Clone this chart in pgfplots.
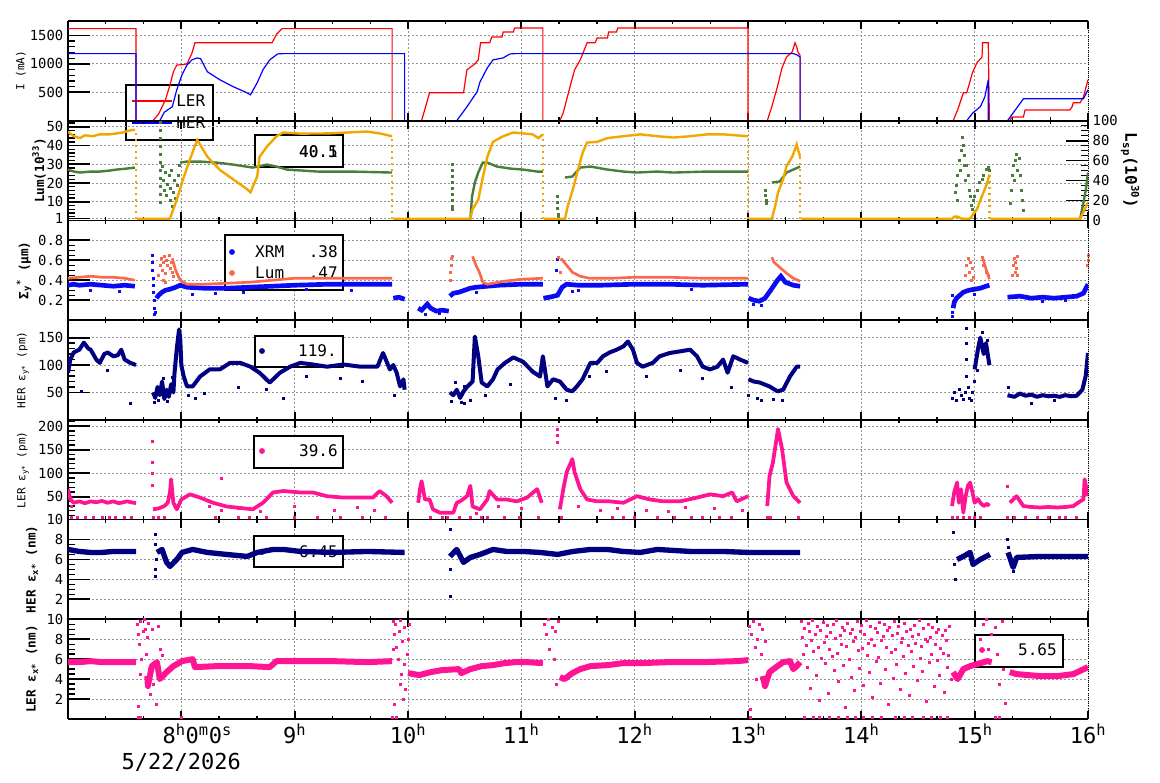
\documentclass[border=0pt]{standalone}
\usepackage{fontspec}
\setmainfont{DejaVu Sans Mono}
\usepackage{pgfplots}
\pgfplotsset{compat=1.18}

\definecolor{cRed}{RGB}{255,0,0}
\definecolor{cBlue}{RGB}{0,0,255}
\definecolor{cOrange}{RGB}{240,168,0}
\definecolor{cGreen}{RGB}{74,124,58}
\definecolor{cSalmon}{RGB}{250,105,75}
\definecolor{cXRM}{RGB}{10,10,245}
\definecolor{cNavy}{RGB}{0,0,128}
\definecolor{cPink}{RGB}{255,20,147}
\definecolor{cGrid}{RGB}{150,150,150}

\newcommand\tickfont{\fontsize{10.4}{12}\selectfont}
\newcommand\xtfont{\fontsize{16.5}{19}\selectfont}
\newcommand\labfont{\fontsize{8.3}{10}\selectfont}
\newcommand\blabfont{\fontsize{9.5}{11}\selectfont\bfseries}
\newcommand\legfont{\fontsize{12}{14}\selectfont}

\pgfplotsset{
  panel/.style={
    scale only axis, width=765pt, height=74.78pt,
    anchor=north west,
    xmin=7, xmax=16,
    xtick={7,...,16}, minor x tick num=2, xticklabels={},
    axis x line*=box, axis y line*=left,
    axis line style={-, line width=1.2pt, black},
    tick align=inside,
    major tick length=16.5pt, minor tick length=5pt,
    every major x tick/.append style={/pgfplots/major tick length=6pt},
    every minor x tick/.append style={/pgfplots/minor tick length=2.5pt},
    major tick style={line width=1.3pt, black},
    minor tick style={line width=1pt, black},
    grid=major,
    major grid style={cGrid, line width=0.6pt, dash pattern=on 1.5pt off 1.5pt},
    /pgf/number format/assume math mode=true,
    /pgf/number format/1000 sep={},
    yticklabel style={font=\tickfont, black},
    ylabel style={anchor=center},
    unbounded coords=jump,
    clip mode=individual,
  },
  sc/.style={only marks, mark=square*, mark size=0.75pt},
}

\begin{document}
\begin{tikzpicture}
\path[use as bounding box] (0,0) rectangle (870pt,586.5pt);

% ---------------- Panel 1: currents ----------------
\begin{axis}[panel, at={(51pt,570.75pt)},
  ymin=0, ymax=1754, ytick={500,1000,1500}, minor y tick num=4,
  ylabel={\labfont I (mA)}, ylabel style={at={(axis description cs:-0.0461,0.5)}}]
\draw[line width=0.9pt, fill=white] (axis description cs:0.0569,0.3582) rectangle (axis description cs:0.1422,-0.1935);
\draw[cRed, line width=0.9pt] (axis description cs:0.0627,0.1977) -- (axis description cs:0.1020,0.1977);
\node[anchor=west, font=\legfont, inner sep=0] at (axis description cs:0.1059,0.1977) {LER};
\draw[cBlue, line width=0.9pt] (axis description cs:0.0627,-0.023) -- (axis description cs:0.1020,-0.023);
\node[anchor=west, font=\legfont, inner sep=0] at (axis description cs:0.1059,-0.023) {HER};
\addplot[cRed, line width=0.9pt] coordinates {
(7.0,1620)(7.6,1620)(7.6,0)(7.75,0)(7.80,120)(7.86,368)(7.90,630)(7.93,860)(7.96,980)(8.01,985)(8.05,1000)(8.094,1190)(8.12,1370)(8.80,1370)(8.82,1440)(8.84,1520)(8.89,1620)(9.86,1620)(9.86,0)(10.12,0)(10.19,491)(10.49,491)(10.52,895)(10.59,1000)(10.62,1070)(10.64,1370)(10.72,1370)(10.74,1474)(10.83,1474)(10.84,1560)(10.93,1560)(10.94,1630)(11.19,1630)(11.19,0)(11.34,0)(11.37,140)(11.43,600)(11.47,895)(11.52,1070)(11.58,1370)(11.65,1370)(11.67,1456)(11.76,1456)(11.77,1560)(11.84,1560)(11.85,1630)(13.0,1630)(13.0,0)(13.17,0)(13.21,245)(13.26,600)(13.30,930)(13.34,1120)(13.39,1210)(13.415,1370)(13.43,1300)(13.44,1210)(13.46,1150)(13.46,0)(14.81,0)(14.85,190)(14.90,490)(14.93,490)(14.98,840)(15.02,1020)(15.065,1120)(15.07,1370)(15.12,1370)(15.13,0)(15.31,0)(15.33,65)(15.43,65)(15.445,190)(15.84,190)(15.86,245)(15.87,315)(15.93,315)(15.96,420)(16.0,720)};
\addplot[cBlue, line width=0.9pt] coordinates {
(7.0,1180)(7.6,1180)(7.6,0)(7.81,0)(7.85,150)(7.92,245)(7.96,545)(8.006,810)(8.05,980)(8.094,1070)(8.14,1105)(8.17,1090)(8.23,860)(8.34,720)(8.456,600)(8.58,490)(8.61,456)(8.67,670)(8.72,895)(8.78,1070)(8.85,1175)(8.90,1180)(9.97,1180)(9.97,0)(10.43,0)(10.52,245)(10.61,510)(10.635,680)(10.70,930)(10.75,1070)(10.84,1105)(10.90,1175)(10.95,1180)(13.40,1180)(13.43,1160)(13.46,1120)(13.46,0)(14.93,0)(14.985,140)(15.05,245)(15.09,420)(15.12,720)(15.12,0)(15.29,0)(15.43,385)(15.96,385)(16.0,545)};
\draw[black, densely dotted, line width=0.6pt] (rel axis cs:1,0) -- (rel axis cs:1,1);
\end{axis}

% ---------------- Panel 2: luminosity ----------------
\begin{axis}[panel, at={(51pt,495.97pt)},
  ymin=0, ymax=53.3, ytick={1,10,20,30,40,50}, minor ytick={2,4,...,52},
  ylabel={\blabfont Lum(10\textsuperscript{33})}, ylabel style={at={(axis description cs:-0.0284,0.5)}}]
\draw[line width=0.9pt, fill=white] (axis description cs:0.1833,0.8567) rectangle (axis description cs:0.2696,0.5358);
\node[anchor=east, font=\legfont, inner sep=0] at (axis description cs:0.2647,0.686) {40.5};
\node[anchor=east, font=\legfont, inner sep=0] at (axis description cs:0.2647,0.686) {40.1};
\end{axis}
\begin{axis}[scale only axis, width=765pt, height=74.78pt, anchor=north west, at={(51pt,495.97pt)},
  xmin=7, xmax=16, ymin=0, ymax=100, axis x line=none, axis y line*=right,
  y axis line style={-, densely dotted, line width=0.6pt, black},
  ytick={0,20,...,100}, minor y tick num=3, tick align=inside,
  major tick length=16.5pt, minor tick length=5pt,
  major tick style={line width=1.3pt, black}, minor tick style={line width=1pt, black},
  /pgf/number format/assume math mode=true,
  yticklabel style={font=\tickfont, black},
  ylabel={\fontsize{12}{14}\selectfont\bfseries L\textsubscript{sp}(10\textsuperscript{30})},
  ylabel style={at={(axis description cs:1.0412,0.5)}, anchor=center, rotate=180},
  unbounded coords=jump]
\addplot[cGreen, line width=1.8pt] coordinates {
(7.0,51)(7.05,49)(7.106,48)(7.2,49)(7.28,49)(7.37,50)(7.43,51)(7.52,52)(7.59,53)(7.6,nan)
(7.99,58)(8.05,59)(8.165,59)(8.31,58)(8.456,56)(8.63,53)(8.756,56)(8.84,54)(8.93,51)(9.2,49)(9.49,49)(9.86,48)(9.9,nan)
(10.55,1)(10.565,24)(10.59,38)(10.62,48)(10.66,58)(10.70,58)(10.785,54)(10.90,52)(11.015,51)(11.14,49)(11.19,49)(11.2,nan)
(11.385,43)(11.45,44)(11.52,53)(11.61,54)(11.76,51)(11.90,49)(12.02,48)(12.20,49)(12.34,48)(12.64,49)(13.0,49)(13.01,nan)
(13.21,38)(13.28,39)(13.34,48)(13.40,51)(13.46,54)(13.5,nan)
(15.85,1)(15.93,1)(15.96,18)(15.98,30)(16.0,48)};
\addplot[cGreen, sc] coordinates {
(7.81,98)(7.81,90)(7.81,82)(7.81,74)(7.81,66)(7.81,58)(7.81,50)(7.81,42)(7.81,34)(7.81,26)(7.81,18)
(7.83,54)(7.84,40)(7.85,30)(7.856,48)(7.87,25)(7.88,36)(7.89,45)(7.90,20)(7.90,32)(7.91,50)(7.92,14)(7.93,28)(7.94,40)(7.95,22)(7.96,35)(7.97,45)(7.98,55)
(10.39,56)(10.39,50)(10.39,44)(10.39,38)(10.39,32)(10.39,26)(10.39,20)(10.39,14)(10.39,11)
(11.32,24)(11.32,18)(11.32,12)(11.33,6)(11.33,4)
(13.15,30)(13.15,25)(13.16,20)(13.16,17)
(14.83,28)(14.84,35)(14.845,20)(14.85,45)(14.86,60)(14.87,50)(14.88,70)(14.89,83)(14.90,75)(14.905,55)(14.91,65)(14.92,40)(14.93,55)(14.94,45)(14.95,30)(14.96,24)(14.97,15)(14.98,11)(14.99,20)(15.0,24)(15.02,30)(15.04,38)(15.065,41)(15.08,45)(15.10,51)(15.12,53)(15.13,50)
(15.31,17)(15.32,30)(15.33,45)(15.34,55)(15.35,40)(15.36,60)(15.37,66)(15.38,50)(15.39,62)(15.40,45)(15.41,30)(15.42,20)(15.43,10)(15.6,1)(15.7,1)};
\end{axis}
\begin{axis}[scale only axis, width=765pt, height=74.78pt, anchor=north west, at={(51pt,495.97pt)},
  xmin=7, xmax=16, ymin=0, ymax=53.3, hide axis, unbounded coords=jump]
\addplot[cOrange, line width=1.8pt] coordinates {
(7.0,47.4)(7.05,45)(7.106,44)(7.15,45.5)(7.22,45)(7.28,46)(7.37,46)(7.43,46.5)(7.485,47)(7.54,48)(7.59,48.5)(7.6,nan)
(7.61,0.8)(7.87,0.8)(7.90,1)(7.93,6)(7.97,13)(8.015,22)(8.076,32.6)(8.14,43)(8.23,34)(8.34,27)(8.456,22)(8.58,16.7)(8.61,15)(8.67,23.6)(8.69,34)(8.756,39.5)(8.84,45)(8.90,47)(9.05,46.4)(9.3,46.5)(9.64,47.5)(9.75,46.5)(9.86,45)(9.865,nan)
(9.87,0.8)(10.55,0.8)(10.57,6)(10.62,11)(10.65,20)(10.70,34)(10.75,42)(10.84,45)(10.93,47)(11.015,46.5)(11.10,46)(11.15,44)(11.19,46)(11.195,nan)
(11.20,0.8)(11.385,0.8)(11.41,7.7)(11.455,16.7)(11.50,27)(11.54,36)(11.58,41.6)(11.67,42)(11.76,44)(11.90,45)(12.05,46)(12.20,45)(12.34,44.3)(12.49,45)(12.64,46)(12.78,46)(13.0,45)(13.005,nan)
(13.01,0.8)(13.21,0.8)(13.24,7.7)(13.265,15)(13.31,22)(13.34,29)(13.39,34)(13.43,40.6)(13.44,38)(13.46,34)(13.465,nan)
(13.47,0.8)(14.80,0.8)(14.82,2)(14.85,2)(14.88,1)(14.93,0.8)(14.96,1)(15.02,6)(15.065,13)(15.11,20)(15.13,24.5)(15.135,nan)
(15.14,0.8)(15.93,0.8)(15.96,4.5)(16.0,9.8)};
\addplot[cOrange, line width=1.8pt, dash pattern=on 1.5pt off 3pt] coordinates {
(7.6,0.8)(7.6,48.5)(7.6,nan)(9.86,0.8)(9.86,45)(9.86,nan)(11.19,0.8)(11.19,46)(11.19,nan)(13.0,0.8)(13.0,45)(13.0,nan)(13.46,0.8)(13.46,34)(13.46,nan)(15.13,0.8)(15.13,24.5)};
\end{axis}

% ---------------- Panel 3: sigma_y ----------------
\begin{axis}[panel, at={(51pt,421.18pt)},
  ymin=0, ymax=1, ytick={0.2,0.4,0.6,0.8}, minor y tick num=3,
  ylabel={\blabfont Σ\textsubscript{y}\textsuperscript{*} (µm)}, ylabel style={at={(axis description cs:-0.0431,0.5)}}]
\draw[line width=0.9pt, fill=white] (axis description cs:0.1539,0.8538) rectangle (axis description cs:0.2696,0.3023);
\fill[cXRM] (axis description cs:0.1608,0.6833) circle (2.2pt);
\node[anchor=west, font=\legfont, inner sep=0] at (axis description cs:0.1833,0.6833) {XRM};
\node[anchor=east, font=\legfont, inner sep=0] at (axis description cs:0.2647,0.6833) {.38};
\fill[cSalmon] (axis description cs:0.1608,0.4727) circle (2.2pt);
\node[anchor=west, font=\legfont, inner sep=0] at (axis description cs:0.1833,0.4727) {Lum};
\node[anchor=east, font=\legfont, inner sep=0] at (axis description cs:0.2647,0.4727) {.47};
\addplot[cXRM, line width=3.5pt] coordinates {
(7.0,0.35)(7.05,0.36)(7.1,0.35)(7.2,0.36)(7.3,0.35)(7.4,0.34)(7.5,0.35)(7.59,0.34)(7.6,nan)
(7.78,0.22)(7.80,0.25)(7.83,0.28)(7.86,0.30)(7.90,0.31)(7.95,0.33)(7.99,0.35)(8.05,0.33)(8.2,0.32)(8.4,0.32)(8.6,0.33)(8.8,0.34)(9.0,0.35)(9.3,0.36)(9.6,0.36)(9.86,0.36)(9.865,nan)
(9.87,0.22)(9.92,0.23)(9.97,0.21)(9.98,nan)
(10.09,0.12)(10.12,0.10)(10.17,0.16)(10.2,0.12)(10.25,0.09)(10.3,0.10)(10.36,0.09)(10.365,nan)
(10.37,0.24)(10.40,0.27)(10.45,0.28)(10.5,0.30)(10.55,0.32)(10.6,0.33)(10.7,0.34)(10.8,0.35)(11.0,0.36)(11.19,0.36)(11.191,nan)
(11.195,0.22)(11.25,0.23)(11.32,0.25)(11.36,0.33)(11.4,0.36)(11.5,0.35)(11.7,0.35)(12.0,0.36)(12.3,0.36)(12.6,0.35)(13.0,0.36)(13.001,nan)
(13.005,0.22)(13.05,0.20)(13.1,0.19)(13.15,0.22)(13.2,0.30)(13.26,0.40)(13.29,0.44)(13.33,0.38)(13.4,0.35)(13.46,0.34)(13.5,nan)
(14.81,0.12)(14.82,0.18)(14.84,0.22)(14.87,0.25)(14.9,0.28)(14.95,0.30)(15.0,0.31)(15.05,0.32)(15.1,0.34)(15.13,0.35)(15.14,nan)
(15.29,0.23)(15.4,0.24)(15.5,0.22)(15.6,0.23)(15.7,0.22)(15.8,0.23)(15.9,0.24)(15.96,0.27)(16.0,0.36)};
\addplot[cXRM, sc] coordinates {
(7.74,0.65)(7.74,0.58)(7.745,0.5)(7.75,0.42)(7.75,0.35)(7.755,0.28)(7.76,0.2)(7.76,0.12)(7.765,0.06)(7.77,0.08)
(7.2,0.3)(7.45,0.29)(8.1,0.26)(8.3,0.27)(8.55,0.28)(9.1,0.31)(9.5,0.3)(10.6,0.28)(11.5,0.3)(11.45,0.29)(12.5,0.31)(13.05,0.16)(13.12,0.15)(14.83,0.2)(15.0,0.26)(15.6,0.19)(15.8,0.2)(11.32,0.61)(11.31,0.5)(14.8,0.04)(14.8,0.08)(14.8,0.25)(10.15,0.06)(10.28,0.07)};
\addplot[cSalmon, line width=2pt] coordinates {
(7.0,0.42)(7.1,0.43)(7.2,0.44)(7.3,0.43)(7.4,0.43)(7.5,0.42)(7.59,0.40)(7.6,nan)
(7.92,0.62)(7.95,0.50)(7.99,0.40)(8.05,0.36)(8.2,0.36)(8.4,0.37)(8.6,0.38)(8.8,0.40)(8.9,0.41)(9.0,0.42)(9.3,0.42)(9.6,0.42)(9.86,0.42)(9.9,nan)
(10.57,0.64)(10.60,0.55)(10.63,0.48)(10.66,0.38)(10.70,0.36)(10.75,0.37)(10.85,0.39)(11.0,0.41)(11.19,0.42)(11.2,nan)
(11.35,0.62)(11.40,0.55)(11.45,0.48)(11.52,0.44)(11.6,0.42)(11.8,0.42)(12.0,0.43)(12.3,0.43)(12.6,0.42)(13.0,0.42)(13.01,nan)
(13.21,0.63)(13.23,0.58)(13.28,0.53)(13.34,0.47)(13.40,0.42)(13.46,0.39)(13.5,nan)
(15.07,0.63)(15.09,0.55)(15.11,0.48)(15.13,0.41)};
\addplot[cSalmon, sc] coordinates {
(7.80,0.45)(7.81,0.55)(7.82,0.62)(7.83,0.50)(7.84,0.58)(7.85,0.64)(7.86,0.47)(7.87,0.60)(7.88,0.55)(7.89,0.65)(7.90,0.52)(7.91,0.58)(7.92,0.48)(7.93,0.44)(7.84,0.40)(7.86,0.38)
(10.37,0.40)(10.375,0.48)(10.38,0.55)(10.385,0.62)(10.39,0.64)(11.33,0.63)(11.34,0.48)
(14.92,0.45)(14.93,0.55)(14.94,0.62)(14.95,0.48)(14.96,0.58)(14.97,0.40)(14.98,0.52)(14.99,0.43)(15.07,0.63)(15.08,0.55)(15.10,0.48)(15.12,0.45)
(15.33,0.45)(15.34,0.55)(15.35,0.62)(15.36,0.48)(15.36,0.58)(15.37,0.52)(15.38,0.64)(15.38,0.45)(15.99,0.55)(16.0,0.65)(16.0,0.60)};
\draw[black, densely dotted, line width=0.6pt] (rel axis cs:1,0) -- (rel axis cs:1,1);
\end{axis}

% ---------------- Panel 4: HER eps_y ----------------
\begin{axis}[panel, at={(51pt,346.40pt)},
  ymin=0, ymax=182, ytick={50,100,150}, minor y tick num=4,
  ylabel={\labfont HER ε\textsubscript{y*} (pm)}, ylabel style={at={(axis description cs:-0.0441,0.5)}}]
\draw[line width=0.9pt, fill=white] (axis description cs:0.1833,0.841) rectangle (axis description cs:0.2696,0.5301);
\fill[cNavy] (axis description cs:0.1902,0.6905) circle (2.2pt);
\node[anchor=east, font=\legfont, inner sep=0] at (axis description cs:0.2637,0.6905) {119.};
\addplot[cNavy, line width=3pt, line join=round] coordinates {
(7.0,86)(7.02,110)(7.05,123)(7.1,128)(7.14,141)(7.18,130)(7.2,128)(7.25,110)(7.28,104)(7.32,120)(7.35,123)(7.4,116)(7.44,118)(7.47,128)(7.5,110)(7.55,104)(7.6,100)(7.61,nan)
(7.75,50)(7.77,40)(7.79,60)(7.81,45)(7.83,70)(7.85,38)(7.87,55)(7.89,42)(7.91,65)(7.93,50)(7.94,86)(7.96,130)(7.98,165)(7.99,150)(8.0,100)(8.02,80)(8.05,61)(8.1,61)(8.165,79)(8.25,92)(8.34,92)(8.43,104)(8.52,104)(8.61,97)(8.69,86)(8.78,68)(8.87,86)(8.96,97)(9.05,104)(9.16,101)(9.285,97)(9.43,101)(9.58,97)(9.73,97)(9.78,122)(9.84,92)(9.87,100)(9.9,86)(9.93,61)(9.96,74)(9.97,55)(9.98,nan)
(10.37,50)(10.40,45)(10.43,55)(10.46,40)(10.49,52)(10.52,60)(10.57,70)(10.59,152)(10.62,116)(10.65,68)(10.70,61)(10.75,74)(10.79,92)(10.856,104)(10.93,114)(11.015,106)(11.10,88)(11.165,79)(11.19,116)(11.23,61)(11.28,74)(11.34,70)(11.40,55)(11.45,52)(11.49,61)(11.54,74)(11.61,104)(11.67,104)(11.72,116)(11.78,123)(11.84,128)(11.90,134)(11.94,143)(11.985,128)(12.02,104)(12.07,97)(12.16,104)(12.22,116)(12.31,122)(12.40,125)(12.49,128)(12.55,116)(12.60,97)(12.665,92)(12.73,97)(12.78,110)(12.82,86)(12.87,116)(12.93,110)(13.0,104)(13.001,nan)
(13.005,74)(13.05,70)(13.105,68)(13.19,61)(13.26,52)(13.31,55)(13.37,79)(13.43,97)(13.46,97)(13.5,nan)
(15.0,92)(15.03,130)(15.05,150)(15.08,120)(15.1,140)(15.13,100)(15.14,nan)
(15.29,45)(15.35,42)(15.4,48)(15.45,44)(15.5,46)(15.55,42)(15.6,45)(15.65,43)(15.7,44)(15.75,42)(15.8,45)(15.85,43)(15.9,44)(15.95,55)(15.98,80)(16.0,122)};
\addplot[cNavy, sc] coordinates {
(7.12,52)(7.35,90)(7.55,30)(8.06,45)(8.12,40)(8.2,48)(8.5,60)(8.75,55)(8.9,40)(9.1,80)(9.4,75)(9.6,70)(9.88,45)(10.5,30)(10.55,35)(10.68,45)(10.9,65)(11.3,40)(11.4,35)(11.6,80)(11.75,88)(12.1,80)(12.4,90)(12.6,75)(12.85,60)(13.0,45)(13.08,40)(13.12,35)(13.22,38)(13.3,35)(15.5,30)(15.7,35)(15.3,60)
(7.76,32)(7.8,35)(7.84,75)(7.88,33)(7.92,78)(10.38,33)(10.42,68)(10.47,32)(10.5,62)
(14.80,40)(14.82,50)(14.84,35)(14.86,55)(14.88,45)(14.90,38)(14.92,50)(14.93,168)(14.93,140)(14.93,110)(14.93,80)(14.94,60)(14.95,40)(14.97,35)(14.98,50)(15.0,70)(15.02,90)(15.07,159)(15.11,145)(15.12,110)};
\draw[black, densely dotted, line width=0.6pt] (rel axis cs:1,0) -- (rel axis cs:1,1);
\end{axis}

% ---------------- Panel 5: LER eps_y ----------------
\begin{axis}[panel, at={(51pt,271.62pt)},
  ymin=1.3, ymax=213.5, ytick={1.3,50,100,150,200}, yticklabels={10,50,100,150,200}, minor ytick={10,20,...,210},
  ylabel={\labfont LER ε\textsubscript{y*} (pm)}, ylabel style={at={(axis description cs:-0.0441,0.5)}}]
\draw[line width=0.9pt, fill=white] (axis description cs:0.1824,0.838) rectangle (axis description cs:0.2696,0.517);
\fill[cPink] (axis description cs:0.1902,0.6875) circle (2.2pt);
\node[anchor=east, font=\legfont, inner sep=0] at (axis description cs:0.2647,0.6875) {39.6};
\addplot[cPink, line width=2.8pt, line join=round] coordinates {
(7.0,66)(7.02,45)(7.05,37)(7.1,40)(7.15,36)(7.2,40)(7.25,38)(7.3,41)(7.35,37)(7.4,40)(7.45,36)(7.52,40)(7.56,38)(7.6,36)(7.61,nan)
(7.75,23)(7.8,25)(7.85,30)(7.88,37)(7.90,60)(7.91,87)(7.92,60)(7.93,37)(7.96,23)(8.0,44)(8.076,55)(8.165,48)(8.28,37)(8.40,29)(8.52,26)(8.63,23)(8.72,37)(8.81,59)(8.90,62)(9.05,59)(9.16,59)(9.285,51)(9.43,48)(9.58,48)(9.69,48)(9.75,62)(9.81,51)(9.86,37)(9.87,nan)
(10.09,37)(10.105,66)(10.12,83)(10.15,44)(10.19,44)(10.22,23)(10.28,16)(10.37,16)(10.40,16)(10.43,37)(10.46,40)(10.52,51)(10.55,73)(10.57,29)(10.635,23)(10.70,44)(10.72,62)(10.785,44)(10.87,44)(10.96,40)(11.05,48)(11.14,66)(11.18,37)(11.19,nan)
(11.34,23)(11.37,66)(11.40,102)(11.45,130)(11.47,102)(11.52,66)(11.58,44)(11.67,40)(11.78,40)(11.90,37)(12.02,51)(12.135,44)(12.25,40)(12.40,40)(12.55,48)(12.665,55)(12.78,51)(12.86,59)(12.90,40)(13.0,51)(13.01,nan)
(13.17,30)(13.19,94)(13.22,123)(13.265,194)(13.30,152)(13.34,80)(13.40,51)(13.46,37)(13.5,nan)
(14.80,30)(14.82,60)(14.845,80)(14.86,37)(14.88,66)(14.90,16)(14.92,50)(14.94,73)(14.96,80)(14.98,60)(15.0,37)(15.03,45)(15.05,37)(15.08,30)(15.11,35)(15.13,30)(15.14,nan)
(15.31,37)(15.37,51)(15.43,30)(15.5,28)(15.58,27)(15.65,28)(15.73,27)(15.8,28)(15.87,30)(15.93,40)(15.96,44)(15.97,87)(16.0,51)};
\addplot[cPink, sc] coordinates {
(7.74,168)(7.74,123)(7.745,100)(7.74,75)(11.32,194)(11.32,180)(11.32,166)(15.29,73)
(7.03,30)(8.25,30)(8.35,20)(8.5,25)(8.7,18)(9.0,30)(9.35,22)(9.55,28)(9.7,20)(10.6,15)(10.8,30)(11.0,26)(11.5,30)(11.7,20)(11.85,25)(12.1,22)(12.3,18)(12.45,28)(12.7,25)(12.95,20)(8.35,90)
(7.03,6)(7.08,6)(7.15,6)(7.22,6)(7.3,6)(7.36,6)(7.42,6)(7.5,6)(7.56,6)(7.75,6)(7.8,6)(7.85,6)(8.3,6)(8.5,6)(8.6,6)(8.75,6)(9.0,6)(9.2,6)(9.4,6)(9.6,6)(9.8,6)(10.2,6)(10.3,6)(10.35,6)(10.45,6)(10.55,6)(10.65,6)(10.7,6)(10.85,6)(10.98,6)(11.15,6)(11.35,6)(11.8,6)(11.9,6)(12.0,6)(12.2,6)(12.35,6)(12.5,6)(12.6,6)(12.75,6)(12.85,6)(13.17,6)(13.2,6)(13.44,6)(14.8,6)(14.85,6)(14.9,6)(14.95,6)(15.0,6)(15.05,6)(15.29,6)(15.35,6)(15.45,6)(15.55,6)(15.65,6)(15.75,6)(15.8,6)(15.9,6)};
\draw[black, densely dotted, line width=0.6pt] (rel axis cs:1,0) -- (rel axis cs:1,1);
\end{axis}

% ---------------- Panel 6: HER eps_x ----------------
\begin{axis}[panel, at={(51pt,196.84pt)},
  ymin=0, ymax=10, ytick={2,4,6,8}, minor y tick num=3,
  ylabel={\blabfont HER ε\textsubscript{x*} (nm)}, ylabel style={at={(axis description cs:-0.0353,0.5)}}]
\draw[line width=0.9pt, fill=white] (axis description cs:0.1824,0.8351) rectangle (axis description cs:0.2696,0.5242);
\fill[cNavy] (axis description cs:0.1902,0.6745) circle (2.2pt);
\node[anchor=east, font=\legfont, inner sep=0] at (axis description cs:0.2647,0.6745) {6.45};
\addplot[cNavy, line width=4pt, line join=round] coordinates {
(7.0,7.0)(7.1,6.8)(7.2,6.7)(7.3,6.7)(7.4,6.8)(7.5,6.8)(7.6,6.8)(7.61,nan)
(7.785,6.7)(7.83,7.0)(7.87,5.7)(7.90,5.3)(7.96,6.0)(8.006,6.7)(8.1,7.0)(8.23,6.7)(8.40,6.5)(8.58,6.3)(8.67,6.7)(8.81,7.0)(8.9,7.0)(9.05,6.8)(9.34,6.7)(9.64,6.8)(9.97,6.7)(9.98,nan)
(10.37,6.3)(10.43,7.0)(10.49,5.7)(10.55,6.2)(10.635,6.5)(10.75,7.0)(10.87,6.8)(11.015,6.8)(11.165,6.7)(11.32,6.5)(11.455,6.8)(11.61,7.0)(11.76,7.0)(11.90,6.8)(12.05,6.7)(12.2,7.0)(12.49,6.8)(12.78,6.8)(13.0,6.7)(13.19,6.7)(13.46,6.7)(13.5,nan)
(14.845,6.0)(14.90,6.3)(14.96,6.7)(14.985,5.5)(15.05,6.0)(15.135,6.5)(15.14,nan)
(15.295,6.7)(15.34,5.2)(15.37,6.2)(15.58,6.3)(15.87,6.3)(16.0,6.3)};
\addplot[cNavy, sc] coordinates {
(7.77,8.5)(7.77,4.3)(7.77,7.5)(7.775,6.0)(7.77,5.0)(10.37,9.0)(10.37,2.3)(10.37,5.0)(14.81,8.7)(14.83,4.0)(14.82,5.5)(15.29,8.0)(15.3,7.2)(15.34,4.8)};
\draw[black, densely dotted, line width=0.6pt] (rel axis cs:1,0) -- (rel axis cs:1,1);
\end{axis}

% ---------------- Panel 7: LER eps_x ----------------
\begin{axis}[panel, at={(51pt,122.05pt)},
  ymin=0, ymax=10, ytick={2,4,6,8,10}, minor y tick num=3,
  xticklabels={{},{\hspace*{24pt}8\textsuperscript{h}0\textsuperscript{m}0\textsuperscript{s}\\5/22/2026},9\textsuperscript{h},10\textsuperscript{h},11\textsuperscript{h},12\textsuperscript{h},13\textsuperscript{h},14\textsuperscript{h},15\textsuperscript{h},16\textsuperscript{h}},
  xticklabel style={font=\xtfont, align=center},
  ylabel={\blabfont LER ε\textsubscript{x*} (nm)}, ylabel style={at={(axis description cs:-0.0353,0.5)}}]
\draw[line width=0.9pt, fill=white] (axis description cs:0.8892,0.8422) rectangle (axis description cs:0.9755,0.5213);
\fill[cPink] (axis description cs:0.8961,0.6918) circle (2.2pt);
\node[anchor=east, font=\legfont, inner sep=0] at (axis description cs:0.9696,0.6918) {5.65};
\addplot[cPink, line width=4.5pt, line join=round] coordinates {
(7.0,5.7)(7.1,5.7)(7.2,5.8)(7.3,5.7)(7.4,5.7)(7.5,5.7)(7.6,5.7)(7.61,nan)
(7.70,4.3)(7.705,3.3)(7.74,5.3)(7.785,5.7)(7.81,4.0)(7.87,4.7)(7.93,5.3)(8.006,5.8)(8.1,6.0)(8.12,5.2)(8.31,5.3)(8.61,5.3)(8.78,5.2)(8.84,5.8)(9.05,5.8)(9.34,5.8)(9.64,5.7)(9.86,5.8)(9.87,nan)
(10.0,4.6)(10.1,4.4)(10.2,4.7)(10.3,4.9)(10.45,5.0)(10.47,4.6)(10.55,5.0)(10.65,5.3)(10.75,5.4)(10.85,5.6)(10.95,5.7)(11.05,5.7)(11.19,5.6)(11.2,nan)
(11.34,4.2)(11.38,4.0)(11.45,4.6)(11.52,5.0)(11.61,5.3)(11.76,5.4)(11.9,5.6)(12.05,5.6)(12.3,5.7)(12.6,5.7)(12.9,5.8)(13.0,5.9)(13.01,nan)
(13.13,4.3)(13.15,3.3)(13.19,4.7)(13.26,5.3)(13.31,5.7)(13.37,5.8)(13.40,5.0)(13.43,5.3)(13.46,5.7)(13.47,nan)
(14.81,4.7)(14.85,4.0)(14.90,5.0)(14.96,5.3)(15.02,5.5)(15.11,5.8)(15.15,5.7)(15.16,nan)
(15.31,4.7)(15.37,4.5)(15.58,4.3)(15.73,4.3)(15.87,4.5)(16.0,5.2)};
\addplot[cPink, sc] coordinates {
(7.61,9.5)(7.62,8.5)(7.63,7.5)(7.62,1.3)(7.64,9.8)(7.66,8.8)(7.67,10)(7.68,9.0)(7.69,6.5)(7.7,8.2)(7.71,9.6)(7.72,5.0)(7.73,2.5)(7.74,9.0)(7.65,6.0)(7.64,4.5)(7.78,1.5)(7.8,9.3)(7.81,7.0)(7.83,6.4)(7.86,4.8)(7.75,3.5)
(9.87,9.8)(9.88,8.5)(9.89,9.5)(9.9,7.2)(9.91,6.0)(9.92,8.8)(9.93,9.9)(9.94,4.5)(9.95,7.8)(9.96,2.0)(9.97,9.2)(9.98,3.0)(9.99,6.5)(10.0,8.0)(9.88,1.5)(9.97,5.5)(9.93,3.5)(10.01,9.5)(9.87,7.0)
(11.2,9.5)(11.22,8.5)(11.24,10)(11.25,7.0)(11.27,9.2)(11.29,6.0)(11.3,8.8)(11.31,3.5)(11.33,9.8)
(13.01,9.3)(13.03,8.5)(13.05,9.8)(13.06,7.2)(13.08,8.0)(13.1,9.5)(13.12,6.5)(13.02,1.0)(13.13,9.0)(13.15,7.8)(13.07,4.0)
(13.47,9.8)(13.48,8.2)(13.49,6.5)(13.5,9.1)(13.51,7.4)(13.52,5.2)(13.53,9.6)(13.54,8.8)(13.55,3.1)(13.56,7.9)(13.57,9.9)(13.58,6.8)(13.59,8.5)(13.6,4.4)(13.61,9.3)(13.62,7.2)(13.63,1.9)(13.64,8.9)(13.65,6.1)(13.66,9.7)(13.67,7.7)(13.68,5.6)(13.69,8.3)(13.7,9.4)(13.71,2.6)(13.72,7.0)(13.73,8.7)(13.74,6.3)(13.75,9.5)(13.76,4.9)(13.77,8.1)(13.78,9.9)(13.79,6.6)(13.8,3.8)(13.81,8.4)(13.82,7.5)(13.83,9.2)(13.84,5.4)(13.85,8.9)(13.86,1.2)(13.87,7.3)(13.88,9.6)(13.89,6.0)(13.9,8.6)(13.91,4.2)(13.92,9.0)(13.93,7.8)(13.94,2.9)(13.95,8.2)(13.96,9.8)(13.97,6.9)(13.98,5.1)(13.99,8.8)(14.0,9.4)(14.01,7.1)(14.02,3.4)(14.03,8.5)(14.04,9.9)(14.05,6.4)(14.06,7.6)(14.07,4.7)(14.08,9.3)(14.09,8.0)(14.1,2.2)(14.11,7.4)(14.12,9.1)(14.13,5.8)(14.14,8.7)(14.15,6.2)(14.16,9.7)(14.17,3.6)(14.18,7.9)(14.19,8.3)(14.2,9.5)(14.21,5.0)(14.22,7.2)(14.23,8.9)(14.24,1.5)(14.25,9.2)(14.26,6.7)(14.27,8.4)(14.28,4.1)(14.29,9.8)(14.3,7.0)(14.31,5.5)(14.32,8.6)(14.33,9.3)(14.34,3.0)(14.35,7.7)(14.36,8.1)(14.37,6.3)(14.38,9.6)(14.39,4.6)(14.4,8.8)(14.41,7.4)(14.42,2.4)(14.43,9.0)(14.44,6.8)(14.45,8.3)(14.46,5.3)(14.47,9.4)(14.48,7.6)(14.49,3.9)(14.5,8.5)(14.51,9.9)(14.52,6.1)(14.53,7.3)(14.54,4.8)(14.55,9.1)(14.56,8.0)(14.57,1.8)(14.58,7.8)(14.59,9.5)(14.6,5.7)(14.61,8.2)(14.62,6.5)(14.63,9.2)(14.64,3.3)(14.65,7.5)(14.66,8.7)(14.67,5.9)(14.68,9.0)(14.69,4.4)(14.7,7.1)(14.71,8.4)(14.72,6.6)(14.73,2.7)(14.74,8.9)(14.75,7.9)(14.76,5.2)(14.77,6.4)(14.78,9.3)(14.79,4.0)
(15.05,8.0)(15.08,9.5)(15.1,10)(15.12,7.0)(15.15,8.5)(15.18,9.2)(15.2,6.5)(15.22,3.5)(15.25,5.0)(15.27,1.6)(15.24,9.8)
(7.62,0.15)(7.64,0.15)(8.0,0.15)(9.86,0.15)(9.9,0.15)(13.02,0.15)(13.5,0.15)(13.58,0.15)(13.63,0.15)(13.72,0.15)(13.8,0.15)(13.88,0.15)(13.95,0.15)(14.02,0.15)(14.1,0.15)(14.18,0.15)(14.3,0.15)(14.38,0.15)(14.45,0.15)(14.55,0.15)(14.62,0.15)(14.7,0.15)(14.76,0.15)(15.18,0.15)(15.22,0.15)};
\draw[black, densely dotted, line width=0.6pt] (rel axis cs:1,0) -- (rel axis cs:1,1);
\end{axis}
\end{tikzpicture}
\end{document}
